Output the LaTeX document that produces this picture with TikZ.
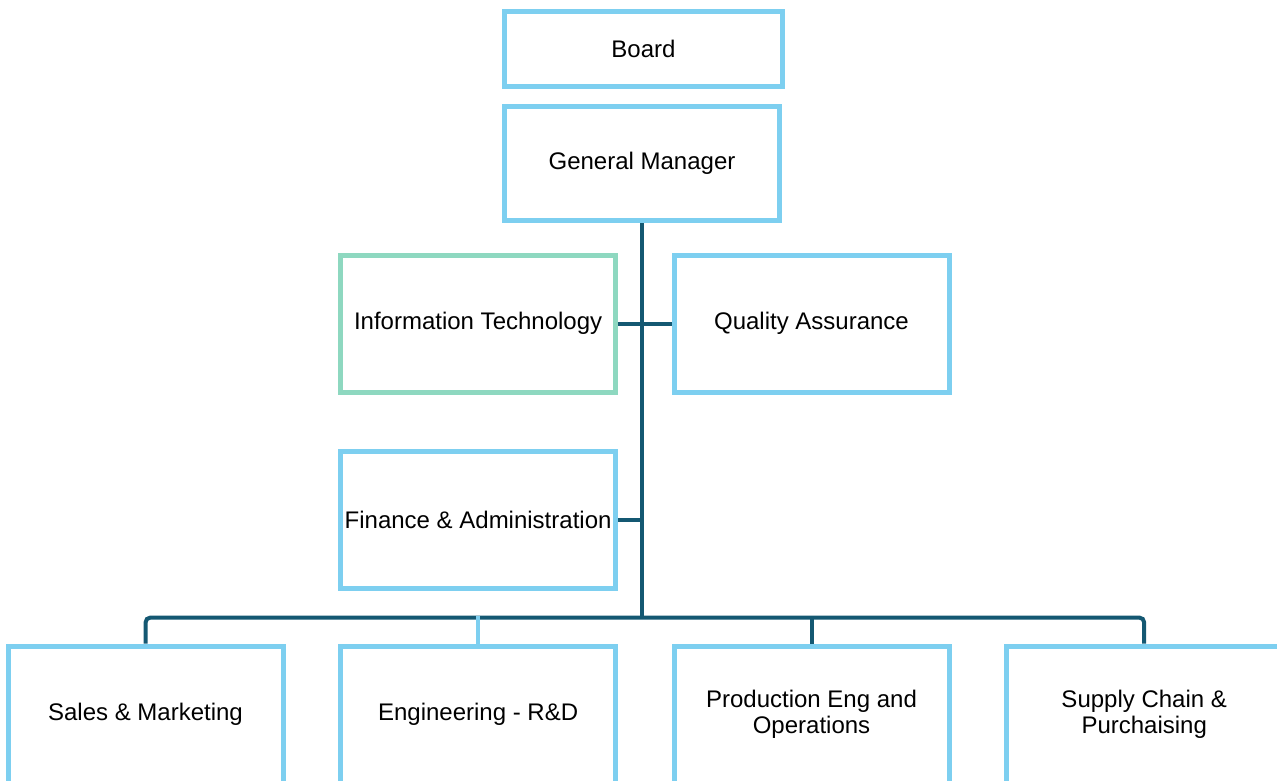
\documentclass[tikz,border=0pt]{standalone}
\usepackage{fontspec}
\setmainfont{Liberation Sans}
\usetikzlibrary{backgrounds}
\definecolor{boxblue}{HTML}{7DCFF0}
\definecolor{boxgreen}{HTML}{8ED8C0}
\definecolor{conndark}{HTML}{145872}
\tikzset{
  orgbox/.style={draw=boxblue, line width=5pt, fill=white, inner sep=0pt,
    minimum width=275pt, minimum height=137pt, align=center,
    font=\fontsize{24}{26}\selectfont},
  conn/.style={draw=conndark, line width=4pt},
  lightconn/.style={draw=boxblue, line width=3.3pt},
}
\begin{document}
\begin{tikzpicture}[x=1pt, y=-1pt]
\useasboundingbox (0,0) rectangle (1277,780);
\clip (0,0) rectangle (1277,780);
\node[orgbox, minimum width=278pt, minimum height=75pt] (board) at (643.5,49) {Board};
\node[orgbox, minimum width=275pt, minimum height=114pt] (gm) at (642,163.5) {General Manager};
\node[orgbox, draw=boxgreen] (it) at (478.1,323.5) {Information Technology};
\node[orgbox] (qa) at (811.5,323.5) {Quality Assurance};
\node[orgbox, minimum height=136.5pt] (fa) at (478.1,519.8) {Finance \& Administration};
\node[orgbox] (sales) at (145.5,714.5) {Sales \& Marketing};
\node[orgbox] (eng) at (478.1,714.5) {Engineering - R\&D};
\node[orgbox] (prod) at (811.5,714.5) {Production Eng and\\Operations};
\node[orgbox] (supply) at (1144.2,714.5) {Supply Chain \&\\Purchaising};
\coordinate (bus) at (641.7,617.5);
\begin{scope}[on background layer]
  \draw[conn] (gm.south) -- (gm.south |- bus);
  \draw[conn, rounded corners=5pt] (sales.north) |- (supply.north |- bus) -- (supply.north);
  \draw[conn] (prod.north) -- (prod.north |- bus);
  \draw[lightconn] (eng.north) -- ([yshift=2pt]eng.north |- bus);
  \draw[conn] (it.east) -- (qa.west);
  \draw[conn] (fa.east) -- (fa.east -| gm.south);
\end{scope}
\end{tikzpicture}
\end{document}
